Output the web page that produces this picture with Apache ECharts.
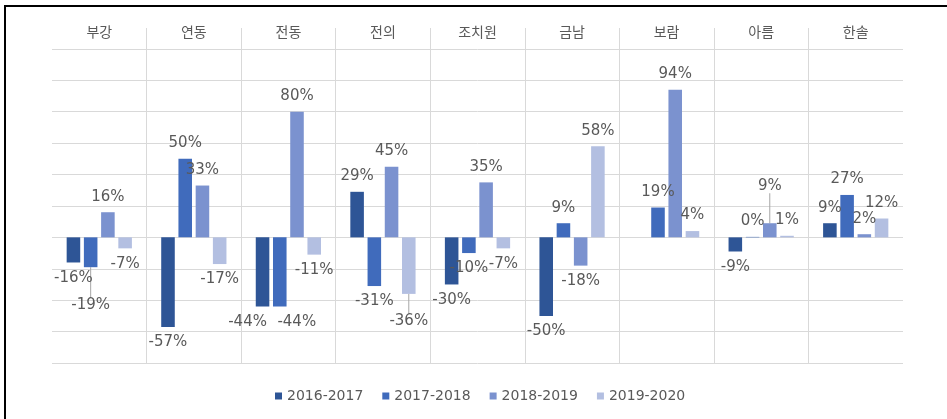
<!DOCTYPE html>
<html>
<head>
<meta charset="utf-8">
<script src="https://cdn.jsdelivr.net/npm/echarts@6/dist/echarts.min.js"></script>
<style>
  html, body { margin: 0; padding: 0; background: #fff; }
  #frame { position: absolute; left: 4px; top: 5px; width: 960px; height: 430px;
           border-top: 2px solid #000; border-left: 2px solid #000; }
  #chart { position: absolute; left: 0; top: 0; width: 947px; height: 419px; }
</style>
</head>
<body>
<div id="frame"></div>
<div id="chart"></div>
<script>
// Regions (dong / eup / myeon)
const categories = ['부강', '연동', '전동', '전의', '조치원', '금남', '보람', '아름', '한솔'];

// Year-over-year change rates per period
const seriesNames = ['2016-2017', '2017-2018', '2018-2019', '2019-2020'];
const rate2016_2017 = [-0.16, -0.57, -0.44, 0.29, -0.30, -0.50, null, -0.09, 0.09];
const rate2017_2018 = [-0.19, 0.50, -0.44, -0.31, -0.10, 0.09, 0.19, 0.003, 0.27];
const rate2018_2019 = [0.16, 0.33, 0.80, 0.45, 0.35, -0.18, 0.94, 0.09, 0.02];
const rate2019_2020 = [-0.07, -0.17, -0.11, -0.36, -0.07, 0.58, 0.04, 0.01, 0.12];

const seriesValues = [rate2016_2017, rate2017_2018, rate2018_2019, rate2019_2020];
const colors = ['#2E5596', '#406BBC', '#7B92CF', '#B3BFE1'];

// Labels nudged away from their neighbours: "series-index" -> [dx, dy, guide line]
const labelShift = {
  '1-0': [0, 22, true],
  '0-2': [-15, 0, false],
  '1-2': [17, 0, false],
  '3-3': [0, 12, true],
  '2-7': [0, -22, true]
};

const labelFont = "'DejaVu Sans', 'Noto Sans CJK KR', sans-serif";

const series = seriesValues.map((vals, s) => ({
  name: seriesNames[s],
  type: 'bar',
  barGap: '27%',
  barCategoryGap: '31%',
  itemStyle: { color: colors[s] },
  label: {
    show: true,
    distance: 8,
    color: '#595959',
    fontSize: 15,
    fontFamily: labelFont,
    formatter: p => Math.round(p.value * 100) + '%'
  },
  labelLine: { show: false, lineStyle: { color: '#A6A6A6', width: 1 } },
  labelLayout: p => {
    const sh = labelShift[s + '-' + p.dataIndex];
    return sh ? { dx: sh[0], dy: sh[1] } : {};
  },
  data: vals.map((v, i) => {
    const sh = labelShift[s + '-' + i];
    return {
      value: v,
      label: { position: v !== null && v < 0 ? 'bottom' : 'top' },
      labelLine: { show: !!(sh && sh[2]) }
    };
  })
}));

const chart = echarts.init(document.getElementById('chart'), null, { renderer: 'canvas' });
chart.setOption({
  backgroundColor: 'transparent',
  animation: false,
  color: colors,
  grid: { left: 52, right: 44, top: 28, bottom: 56 },
  xAxis: {
    type: 'category',
    position: 'top',
    data: categories,
    axisLine: { show: false },
    axisTick: { show: false },
    axisLabel: {
      color: '#595959',
      fontSize: 14,
      fontFamily: "'Noto Sans CJK KR', sans-serif",
      margin: -11
    },
    splitLine: {
      show: true,
      showMinLine: false,
      showMaxLine: false,
      lineStyle: { color: '#D9D9D9', width: 1 }
    }
  },
  yAxis: {
    type: 'value',
    min: -0.8,
    max: 1.333,
    interval: 0.2,
    axisLabel: { show: false },
    axisLine: { show: false },
    axisTick: { show: false },
    splitLine: {
      show: true,
      showMaxLine: false,
      lineStyle: { color: '#D9D9D9', width: 1 }
    }
  },
  legend: {
    bottom: 11,
    left: 270,
    icon: 'rect',
    itemWidth: 7,
    itemHeight: 7,
    itemGap: 19,
    textStyle: { color: '#595959', fontSize: 14, fontFamily: labelFont }
  },
  series: series
});
</script>
</body>
</html>
